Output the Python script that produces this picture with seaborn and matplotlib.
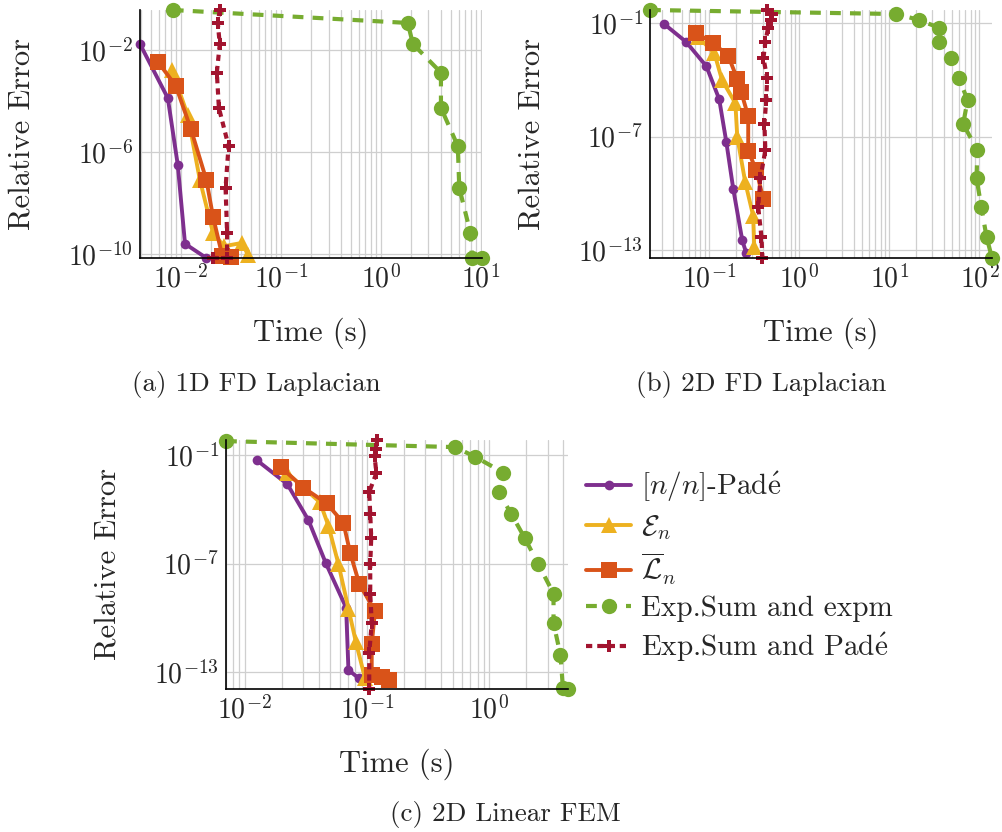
import numpy as np
import matplotlib
matplotlib.use("Agg")
import matplotlib.pyplot as plt
from matplotlib.ticker import LogLocator, NullLocator, NullFormatter
import seaborn as sns

# ── (a) 1D FD Laplacian ──
a_pade_t = [0.0039, 0.0074, 0.0093, 0.011, 0.018]
a_pade_err = [1.7e-2, 1.3e-4, 3.2e-7, 2.5e-10, 6.9e-11]
a_en_t = [0.0081, 0.0117, 0.0155, 0.021, 0.027, 0.041, 0.047]
a_en_err = [1.66e-3, 2.8e-5, 7.9e-8, 6.6e-10, 2.0e-10, 2.7e-10, 8.9e-11]
a_ln_t = [0.0059, 0.0089, 0.0126, 0.018, 0.021, 0.026, 0.032]
a_ln_err = [3.4e-3, 3.9e-4, 7.9e-6, 7.9e-8, 2.8e-9, 8.3e-11, 7.6e-11]
a_sum_t = [0.0083, 1.86, 2.1, 4.0, 4.0, 5.9, 6.1, 7.9, 8.2, 10.3]
a_sum_err = [3.7e-1, 1.15e-1, 1.7e-2, 1.3e-3, 5.4e-5, 1.7e-6, 3.9e-8, 6.6e-10, 6.9e-11, 6.9e-11]
a_sumpade_t = [0.0245, 0.0234, 0.0245, 0.0229, 0.024, 0.030, 0.028, 0.029, 0.029, 0.021]
a_sumpade_err = a_sum_err

# ── (b) 2D FD Laplacian ──
b_pade_t = [0.0316, 0.0555, 0.093, 0.129, 0.155, 0.185, 0.233, 0.258]
b_pade_err = [8.9e-2, 1.0e-2, 5.2e-4, 9.5e-6, 5.0e-8, 1.66e-10, 3.2e-13, 6.9e-14]
b_en_t = [0.0755, 0.114, 0.139, 0.195, 0.205, 0.251, 0.308, 0.316]
b_en_err = [1.8e-2, 2.6e-3, 9.5e-5, 5.9e-6, 9.3e-8, 3.9e-10, 6.3e-12, 1.45e-13]
b_ln_t = [0.0717, 0.111, 0.163, 0.205, 0.227, 0.271, 0.271, 0.333, 0.398]
b_ln_err = [2.95e-2, 8.7e-3, 1.8e-3, 1.1e-4, 2.2e-5, 1.2e-6, 1.7e-8, 1.7e-9, 5.0e-11]
b_sum_t = [0.022, 12, 21.5, 36, 36, 48, 59, 74, 66, 95, 93, 105, 120, 138]
b_sum_err = [4.9e-1, 3.0e-1, 1.45e-1, 5.5e-2, 1.0e-2, 1.4e-3, 1.23e-4, 8.5e-6,
             4.6e-7, 1.9e-8, 6.3e-10, 1.86e-11, 5.0e-13, 3.8e-14]
b_sumpade_t = [0.44, 0.50, 0.48, 0.45, 0.42, 0.40, 0.44, 0.43, 0.41, 0.42, 0.37, 0.35, 0.38, 0.39]
b_sumpade_err = b_sum_err

# ── (c) 2D Linear FEM ──
c_pade_t = [0.0125, 0.0222, 0.033, 0.0459, 0.0673, 0.0703, 0.085]
c_pade_err = [5.2e-2, 2.5e-3, 2.6e-5, 1.05e-7, 3.6e-10, 1.3e-13, 4.6e-14]
c_en_t = [0.022, 0.0412, 0.0482, 0.0582, 0.0703, 0.0808, 0.096]
c_en_err = [1.07e-2, 2.4e-4, 1.23e-5, 9.5e-8, 3.2e-10, 4.7e-12, 4.6e-14]
c_ln_t = [0.0196, 0.030, 0.0468, 0.064, 0.0726, 0.0865, 0.116, 0.109, 0.109, 0.132, 0.151]
c_ln_err = [2.2e-2, 1.6e-3, 2.1e-4, 1.74e-5, 3.9e-7, 7.1e-9, 2.4e-10, 3.4e-12, 6.9e-14, 5.6e-14, 3.4e-14]
c_sum_t = [0.007, 0.526, 0.77, 1.30, 1.19, 1.51, 1.94, 2.52, 3.35, 3.35, 3.82, 4.0, 4.4]
c_sum_err = [5.9e-1, 2.75e-1, 7.8e-2, 1.07e-2, 9.1e-4, 5.6e-5, 2.7e-6, 8.9e-8,
             2.2e-9, 5.0e-11, 8.7e-13, 1.26e-14, 1.15e-14]
c_sumpade_t = [0.121, 0.118, 0.115, 0.119, 0.104, 0.106, 0.108, 0.106, 0.106, 0.109, 0.104, 0.104]
c_sumpade_err = [6.8e-1, 2.2e-1, 8.9e-2, 1.0e-2, 9.1e-4, 5.6e-5, 2.7e-6, 8.9e-8,
                 2.2e-9, 5.0e-11, 1.1e-12, 1.2e-14]

LABELS = [r"$[n/n]$-Pad$\mathrm{\acute{e}}$", r"$\mathcal{E}_n$", r"$\overline{\mathcal{L}}_n$",
          "Exp.Sum and expm", r"Exp.Sum and Pad$\mathrm{\acute{e}}$"]
STYLES = [
    dict(color="#7E2F8E", marker="o", markersize=7, linestyle="-", linewidth=2.8),
    dict(color="#EDB120", marker="^", markersize=12, linestyle="-", linewidth=2.8),
    dict(color="#D95319", marker="s", markersize=11, linestyle="-", linewidth=2.8),
    dict(color="#77AC30", marker="o", markersize=11, linestyle=(0, (2.6, 2.2)), linewidth=3.0),
    dict(color="#A2142F", marker="P", markersize=8.5, linestyle=(0, (1.5, 1.2)), linewidth=3.0),
]

sns.set_theme(style="white")
plt.rcParams["font.family"] = ["cmr10", "DejaVu Serif"]
plt.rcParams["mathtext.fontset"] = "cm"
plt.rcParams["axes.formatter.use_mathtext"] = True

W, H = 1002, 832
fig = plt.figure(figsize=(W / 100, H / 100), dpi=100)


def px_axes(left, top, right, bottom):
    return fig.add_axes([left / W, 1 - bottom / H, (right - left) / W, (bottom - top) / H])


def panel(ax, series, xticks, yticks):
    for (t, err), lab, st in zip(series, LABELS, STYLES):
        sns.lineplot(x=t, y=err, ax=ax, sort=False, estimator=None, label=lab, legend=False,
                     markeredgecolor=st["color"], markeredgewidth=0, clip_on=False, **st)
    ax.set_xscale("log")
    ax.set_yscale("log")
    all_t = np.concatenate([s[0] for s in series])
    all_e = np.concatenate([s[1] for s in series])
    ax.set_xticks(xticks)
    ax.set_yticks(yticks)
    ax.xaxis.set_minor_locator(LogLocator(base=10, subs=np.arange(2, 10), numticks=100))
    ax.xaxis.set_minor_formatter(NullFormatter())
    ax.yaxis.set_minor_locator(NullLocator())
    ax.set_xlim(all_t.min(), all_t.max())
    ax.set_ylim(all_e.min(), all_e.max())
    ax.grid(True, which="major", axis="both", color="#cfcfcf", linewidth=0.9)
    ax.grid(True, which="minor", axis="x", color="#cfcfcf", linewidth=0.9)
    for s in ("top", "right"):
        ax.spines[s].set_visible(False)
    for s in ("left", "bottom"):
        ax.spines[s].set_color("black")
        ax.spines[s].set_linewidth(1.2)
    ax.tick_params(which="both", direction="in", top=False, right=False, color="#444444",
                   labelsize=20, pad=5)
    ax.tick_params(which="major", length=4, width=0.8)
    ax.tick_params(which="minor", length=2.5, width=0.8)
    ax.set_xlabel("Time (s)", fontsize=22)
    ax.set_ylabel("Relative Error", fontsize=22)
    ax.xaxis.set_label_coords(0.5, -0.24)
    ax.yaxis.set_label_coords(-0.305, 0.5)


ax_a = px_axes(140, 10, 482, 258)
panel(ax_a, [(a_pade_t, a_pade_err), (a_en_t, a_en_err), (a_ln_t, a_ln_err),
             (a_sum_t, a_sum_err), (a_sumpade_t, a_sumpade_err)],
      [1e-2, 1e-1, 1e0, 1e1], [1e-2, 1e-6, 1e-10])

ax_b = px_axes(650, 10, 992, 258)
panel(ax_b, [(b_pade_t, b_pade_err), (b_en_t, b_en_err), (b_ln_t, b_ln_err),
             (b_sum_t, b_sum_err), (b_sumpade_t, b_sumpade_err)],
      [1e-1, 1e0, 1e1, 1e2], [1e-1, 1e-7, 1e-13])

ax_c = px_axes(226, 440, 568, 689)
panel(ax_c, [(c_pade_t, c_pade_err), (c_en_t, c_en_err), (c_ln_t, c_ln_err),
             (c_sum_t, c_sum_err), (c_sumpade_t, c_sumpade_err)],
      [1e-2, 1e-1, 1e0], [1e-1, 1e-7, 1e-13])

fig.text(256 / W, 1 - 385 / H, "(a) 1D FD Laplacian", ha="center", va="center", fontsize=19.5)
fig.text(761 / W, 1 - 385 / H, "(b) 2D FD Laplacian", ha="center", va="center", fontsize=19.5)
fig.text(505 / W, 1 - 815 / H, "(c) 2D Linear FEM", ha="center", va="center", fontsize=19.5)

handles, labels = ax_c.get_legend_handles_labels()
fig.legend(handles, labels, loc="upper left", bbox_to_anchor=(586 / W, 1 - 470 / H),
           frameon=False, fontsize=21, handlelength=1.55, handletextpad=0.35,
           labelspacing=0.3, borderpad=0, borderaxespad=0)

fig.savefig("out.png", dpi=100)
